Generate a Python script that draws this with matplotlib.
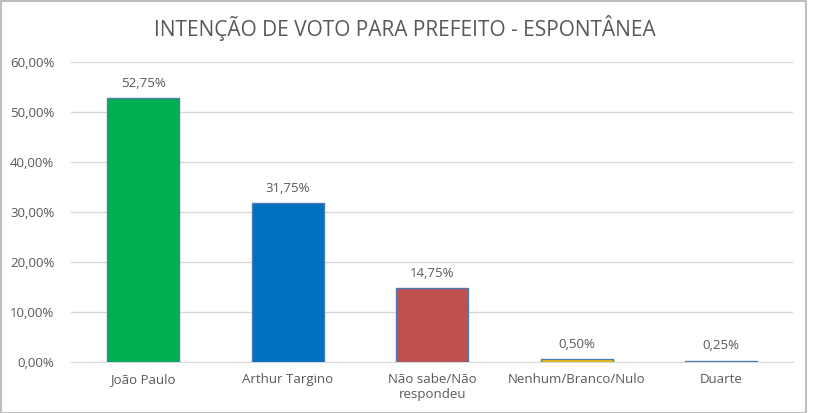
import matplotlib.pyplot as plt
from matplotlib.patches import Rectangle
from matplotlib.ticker import FuncFormatter

categories = ["João Paulo", "Arthur Targino", "Não sabe/Não\nrespondeu", "Nenhum/Branco/Nulo", "Duarte"]
values = [52.75, 31.75, 14.75, 0.50, 0.25]
colors = ["#00B050", "#0070C0", "#C0504D", "#FFC000", "#4472C4"]
yticks = [0, 10, 20, 30, 40, 50, 60]

plt.rcParams["font.family"] = ["Open Sans", "DejaVu Sans"]
text_color = "#595959"

fig = plt.figure(figsize=(8.13, 4.13), dpi=100)
ax = fig.add_axes([0.0874, 0.1235, 0.8884, 0.7265])

x = list(range(len(categories)))
ax.bar(x, values, width=0.5, color=colors, edgecolor="#4F7BB5", linewidth=1.0, zorder=3)

for xi, v in zip(x, values):
    ax.annotate(f"{v:.2f}%".replace(".", ","), (xi, v), xytext=(0, 6),
                textcoords="offset points", ha="center", va="bottom",
                fontsize=9.5, color=text_color)

ax.set_xlim(-0.5, len(categories) - 0.5)
ax.set_ylim(0, 60)
ax.set_yticks(yticks)
ax.yaxis.set_major_formatter(FuncFormatter(lambda v, _: f"{v:.2f}%".replace(".", ",")))
ax.set_xticks(x)
ax.set_xticklabels(categories)
ax.tick_params(axis="both", length=0, labelsize=9.5, colors=text_color)
ax.tick_params(axis="x", pad=8)
ax.tick_params(axis="y", pad=12)
ax.grid(axis="y", color="#D9D9D9", linewidth=1, zorder=0)
for side in ["top", "right", "left"]:
    ax.spines[side].set_visible(False)
ax.spines["bottom"].set_color("#D9D9D9")

fig.text(0.498, 0.932, "INTENÇÃO DE VOTO PARA PREFEITO - ESPONTÂNEA",
         ha="center", va="center", fontsize=15, color=text_color)

fig.patches.append(Rectangle((0.001, 0.0), 0.991, 0.998, transform=fig.transFigure,
                             fill=False, edgecolor="#BFBFBF", linewidth=1.5))

fig.savefig("out.png", dpi=100)
